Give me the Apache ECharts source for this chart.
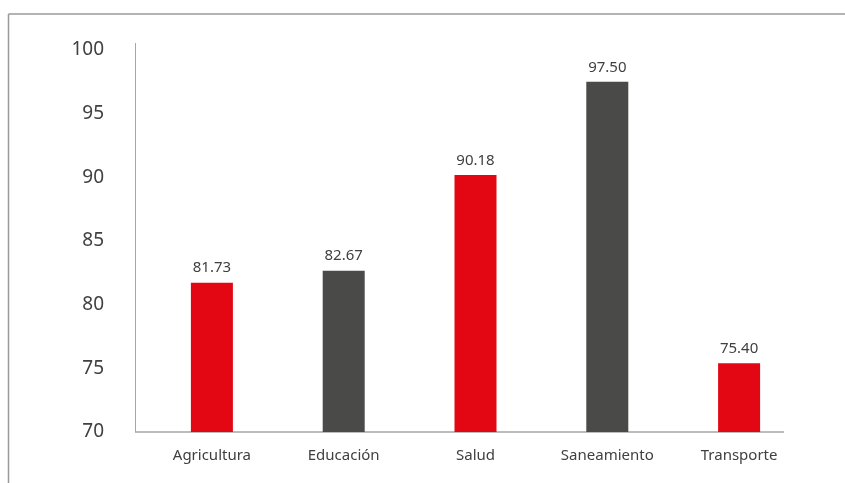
<!DOCTYPE html>
<html><head><meta charset="utf-8">
<script src="https://cdn.jsdelivr.net/npm/echarts@6/dist/echarts.min.js"></script>
<style>html,body{margin:0;padding:0;background:#fff}#c{width:845px;height:483px}</style>
</head><body><div id="c"></div>
<script>
const categories = ['Agricultura', 'Educación', 'Salud', 'Saneamiento', 'Transporte'];
const values = [81.73, 82.67, 90.18, 97.50, 75.40];
const barColors = ['#E30613', '#4A4A49', '#E30613', '#4A4A49', '#E30613'];
const yTicks = { min: 70, max: 100, interval: 5 };

const chart = echarts.init(document.getElementById('c'));
chart.setOption({
  animation: false,
  backgroundColor: '#fff',
  grid: { left: 146, right: 40, top: 50, bottom: 51 },
  xAxis: {
    type: 'category', data: categories,
    axisLine: { show: false }, axisTick: { show: false },
    axisLabel: { color: '#404040', fontSize: 15, fontFamily: 'Noto Sans', margin: 16 }
  },
  yAxis: {
    type: 'value', min: yTicks.min, max: yTicks.max, interval: yTicks.interval,
    axisLine: { show: false }, axisTick: { show: false }, splitLine: { show: false },
    axisLabel: { color: '#404040', fontSize: 19, fontFamily: 'Noto Sans', margin: 42 }
  },
  series: [{
    type: 'bar', barWidth: 42,
    data: values.map((v, i) => ({ value: v, itemStyle: { color: barColors[i] } })),
    label: { show: true, position: 'top', distance: 7, color: '#404040', fontSize: 15, fontFamily: 'Noto Sans',
      formatter: p => p.value.toFixed(2) }
  }],
  graphic: [
    { type: 'line', shape: { x1: 8.5, y1: 14, x2: 845, y2: 14 }, style: { stroke: '#9a9a9a', lineWidth: 1.5 } },
    { type: 'line', shape: { x1: 8.5, y1: 14, x2: 8.5, y2: 483 }, style: { stroke: '#9a9a9a', lineWidth: 1.5 } },
    { type: 'line', shape: { x1: 135.5, y1: 43, x2: 135.5, y2: 432 }, style: { stroke: '#a6a6a6', lineWidth: 1 } },
    { type: 'line', shape: { x1: 135, y1: 432, x2: 784, y2: 432 }, style: { stroke: '#a6a6a6', lineWidth: 1.5 } }
  ]
});
</script></body></html>
